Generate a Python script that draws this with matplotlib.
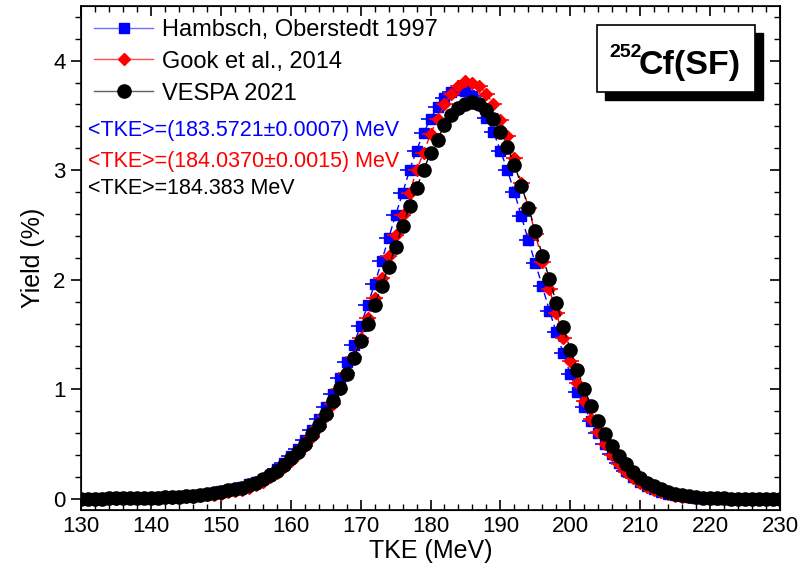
import matplotlib
matplotlib.use("Agg")
import matplotlib.pyplot as plt
from matplotlib.lines import Line2D
from matplotlib.patches import Rectangle
from matplotlib.ticker import MultipleLocator

# TKE grid (MeV), 1 MeV steps
tke = list(range(130, 231))

# Hambsch, Oberstedt 1997
yield_hambsch = [
    0.003, 0.003, 0.004, 0.005, 0.006, 0.006, 0.007, 0.009, 0.010, 0.012,
    0.014, 0.016, 0.019, 0.022, 0.026, 0.030, 0.035, 0.041, 0.049, 0.058,
    0.069, 0.082, 0.096, 0.113, 0.133, 0.156, 0.185, 0.22, 0.27, 0.33,
    0.39, 0.46, 0.54, 0.63, 0.73, 0.84, 0.96, 1.10, 1.25, 1.41,
    1.58, 1.77, 1.96, 2.17, 2.38, 2.59, 2.79, 3.00, 3.18, 3.34,
    3.47, 3.58, 3.66, 3.71, 3.73, 3.72, 3.68, 3.60, 3.48, 3.35,
    3.18, 3.00, 2.80, 2.58, 2.36, 2.15, 1.94, 1.72, 1.52, 1.33,
    1.14, 0.98, 0.84, 0.71, 0.60, 0.50, 0.41, 0.33, 0.26, 0.20,
    0.155, 0.118, 0.088, 0.065, 0.048, 0.035, 0.025, 0.018, 0.012, 0.008,
    0.006, 0.004, 0.003, 0.002, 0.0015, 0.001, 0.001, 0.0005, 0.0005, 0.0003, 0.0003,
]

# Gook et al., 2014
yield_gook = [
    0.002, 0.002, 0.002, 0.003, 0.003, 0.004, 0.004, 0.005, 0.006, 0.007,
    0.008, 0.009, 0.011, 0.013, 0.016, 0.019, 0.023, 0.028, 0.034, 0.041,
    0.050, 0.060, 0.072, 0.087, 0.105, 0.13, 0.16, 0.20, 0.24, 0.29,
    0.35, 0.41, 0.48, 0.57, 0.66, 0.76, 0.87, 1.00, 1.15, 1.30,
    1.47, 1.65, 1.83, 2.02, 2.22, 2.41, 2.59, 2.79, 3.00, 3.16,
    3.33, 3.47, 3.60, 3.70, 3.77, 3.81, 3.80, 3.77, 3.70, 3.60,
    3.46, 3.31, 3.11, 2.88, 2.66, 2.42, 2.16, 1.92, 1.70, 1.47,
    1.26, 1.06, 0.89, 0.73, 0.61, 0.50, 0.40, 0.32, 0.25, 0.19,
    0.145, 0.11, 0.08, 0.06, 0.044, 0.032, 0.023, 0.016, 0.011, 0.008,
    0.005, 0.004, 0.003, 0.002, 0.0015, 0.001, 0.0007, 0.0005, 0.0003, 0.0002, 0.0002,
]

# VESPA 2021
yield_vespa = [
    0.003, 0.003, 0.004, 0.004, 0.005, 0.006, 0.007, 0.008, 0.009, 0.010,
    0.012, 0.014, 0.016, 0.019, 0.022, 0.026, 0.031, 0.037, 0.045, 0.055,
    0.066, 0.078, 0.092, 0.105, 0.125, 0.15, 0.18, 0.22, 0.26, 0.31,
    0.37, 0.43, 0.505, 0.59, 0.68, 0.78, 0.89, 1.01, 1.14, 1.29,
    1.44, 1.60, 1.77, 1.945, 2.12, 2.30, 2.49, 2.67, 2.84, 3.00,
    3.16, 3.28, 3.41, 3.50, 3.57, 3.60, 3.62, 3.60, 3.55, 3.47,
    3.35, 3.21, 3.05, 2.86, 2.66, 2.45, 2.22, 2.01, 1.79, 1.57,
    1.36, 1.18, 1.00, 0.85, 0.71, 0.59, 0.48, 0.39, 0.32, 0.25,
    0.19, 0.15, 0.12, 0.09, 0.065, 0.05, 0.037, 0.027, 0.02, 0.014,
    0.010, 0.007, 0.005, 0.004, 0.003, 0.002, 0.0015, 0.001, 0.001, 0.0005, 0.0005,
]

# TKE bin half-widths drawn as horizontal error bars
dtke_hambsch = 1.4
dtke_gook = 1.2

labels = ["Hambsch, Oberstedt 1997", "Gook et al., 2014", "VESPA 2021"]
mean_texts = ["<TKE>=(183.5721\u00b10.0007) MeV",
              "<TKE>=(184.0370\u00b10.0015) MeV",
              "<TKE>=184.383 MeV"]

NARROW = ["Liberation Sans Narrow", "Liberation Sans", "DejaVu Sans"]
ARIAL = ["Liberation Sans", "DejaVu Sans"]

fig = plt.figure(figsize=(8.1, 5.69), dpi=100)
ax = fig.add_axes([0.1, 0.1037, 0.863, 0.886])

dash = (0, (5, 3))
# Hambsch
ax.plot(tke, yield_hambsch, color="blue", lw=1, ls=dash, zorder=2)
ax.errorbar(tke, yield_hambsch, xerr=dtke_hambsch, fmt="s", color="blue",
            ms=7.2, mec="blue", mfc="blue", elinewidth=1.2, capsize=0, zorder=3)
# Gook
ax.plot(tke, yield_gook, color="red", lw=1, ls=dash, zorder=4)
ax.errorbar(tke, yield_gook, xerr=dtke_gook, fmt="D", color="red",
            ms=6.5, mec="red", mfc="red", elinewidth=1.2, capsize=0, zorder=5)
# VESPA
ax.plot(tke, yield_vespa, color="black", lw=1, ls=dash, zorder=6)
ax.plot(tke, yield_vespa, "o", color="black", ms=9.5, zorder=7)

ax.set_xlim(130, 230)
ax.set_ylim(-0.1, 4.5)
ax.xaxis.set_major_locator(MultipleLocator(10))
ax.xaxis.set_minor_locator(MultipleLocator(2))
ax.yaxis.set_major_locator(MultipleLocator(1))
ax.yaxis.set_minor_locator(MultipleLocator(0.2))
ax.tick_params(axis="x", which="both", direction="in", top=True, bottom=True)
ax.tick_params(axis="y", which="both", direction="out", left=True, right=False)
ax.tick_params(which="major", length=7, width=1.2)
ax.tick_params(which="minor", length=4, width=1.0)
ax.tick_params(labelsize=16, pad=4)
for lab in ax.get_xticklabels() + ax.get_yticklabels():
    lab.set_family(NARROW)
for s in ax.spines.values():
    s.set_linewidth(1.2)

# right-hand ticks point inward
ax2 = ax.twinx()
ax2.set_ylim(ax.get_ylim())
ax2.yaxis.set_major_locator(MultipleLocator(1))
ax2.yaxis.set_minor_locator(MultipleLocator(0.2))
ax2.tick_params(axis="y", which="both", direction="in", labelright=False)
ax2.tick_params(which="major", length=7, width=1.2)
ax2.tick_params(which="minor", length=4, width=1.0)

ax.set_xlabel("TKE (MeV)", fontsize=18, family=NARROW, labelpad=2)
ax.set_ylabel("Yield (%)", fontsize=18, family=NARROW, labelpad=6)

handles = [
    Line2D([], [], color="#7070ff", lw=1, marker="s", ms=7.2, mfc="blue", mec="blue"),
    Line2D([], [], color="#ff5050", lw=1, marker="D", ms=6.5, mfc="red", mec="red"),
    Line2D([], [], color="#606060", lw=1, marker="o", ms=9.5, mfc="black", mec="black"),
]
ax2.legend(handles, labels, loc="upper left", bbox_to_anchor=(0.0, 1.0),
           frameon=False, prop={"family": ARIAL, "size": 17},
           handlelength=2.5, handletextpad=0.4, labelspacing=0.42,
           borderaxespad=0.15)

for txt, col, yy in zip(mean_texts, ["blue", "red", "black"], [0.752, 0.692, 0.637]):
    ax2.text(0.01, yy, txt, color=col, transform=ax.transAxes, fontsize=15.5,
             family=ARIAL, va="center", ha="left", zorder=10)

# boxed reaction label with drop shadow
ax2.add_patch(Rectangle((0.7495, 0.813), 0.226, 0.133, transform=ax.transAxes,
                        facecolor="black", edgecolor="black", zorder=8))
ax2.add_patch(Rectangle((0.738, 0.829), 0.226, 0.133, transform=ax.transAxes,
                        facecolor="white", edgecolor="black", lw=1.2, zorder=9))
ax2.text(0.756, 0.907, "252", transform=ax.transAxes, fontsize=14,
         fontweight="bold", family=ARIAL, ha="left", va="center", zorder=10)
ax2.text(0.797, 0.881, "Cf(SF)", transform=ax.transAxes, fontsize=24.5,
         fontweight="bold", family=ARIAL, ha="left", va="center", zorder=10)

fig.savefig("out.png", dpi=100)
